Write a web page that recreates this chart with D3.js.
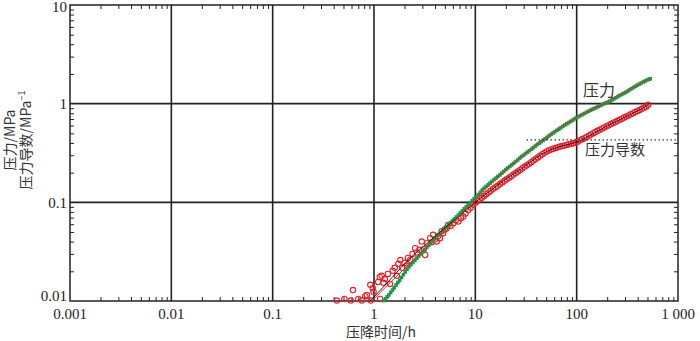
<!DOCTYPE html>
<html>
<head>
<meta charset="utf-8">
<script src="https://cdn.jsdelivr.net/npm/d3@7"></script>
<style>
  body { margin: 0; background: #fff; }
  svg { display: block; }
  .num { font-family: "Liberation Serif", "DejaVu Serif", serif; font-size: 15px; fill: #222; }
  .cjk { font-family: "Noto Sans CJK SC", sans-serif; font-size: 15px; fill: #333; }
</style>
</head>
<body>
<div id="chart"></div>
<script>
// pressure (green squares): time in h, value in MPa
var pTime = [1.25,1.30,1.35,1.40,1.46,1.52,1.58,1.65,1.72,1.79,1.87,1.95,2.03,2.12,2.21,2.31,2.42,2.53,2.65,2.77,
  2.90,3.03,3.17,3.32,3.47,3.63,3.80,3.97,4.15,4.34,4.54,4.75,4.97,5.20,5.44,5.69,5.95,6.22,6.51,6.81,
  7.12,7.45,7.79,8.15,8.52,8.91,9.32,9.75,10.2,10.7,11.2,11.7,12.2,12.8,13.4,14.0,14.6,15.3,16.0,16.7,
  17.5,18.3,19.1,20.0,20.9,21.9,22.9,23.9,25.0,26.2,27.4,28.6,29.9,31.3,32.7,34.2,35.8,37.4,39.1,40.9,
  42.8,44.7,46.8,48.9,51.1,53.5,55.9,58.5,61.1,63.9,66.8,69.9,73.1,76.4,79.9,83.5,87.3,91.3,95.5,99.8,
  104,109,114,119,125,131,137,143,149,156,163,171,179,187,195,204,213,223,233,244,
  255,266,278,291,304,318,333,348,364,380,397,415,434,454,475,497,519,532];
var pValue = [0.0101,0.0105,0.0110,0.0115,0.0122,0.0129,0.0136,0.0145,0.0154,0.0162,0.0173,0.0185,0.0197,0.0210,0.0222,0.0233,0.0245,0.0258,0.0272,0.0286,
  0.0300,0.0316,0.0333,0.0350,0.0367,0.0386,0.0405,0.0426,0.0447,0.0468,0.0490,0.0514,0.0538,0.0564,0.0592,0.0622,0.0650,0.0678,0.0710,0.0744,
  0.0782,0.0820,0.0860,0.0903,0.0948,0.0993,0.104,0.109,0.114,0.120,0.126,0.133,0.139,0.145,0.151,0.157,0.163,0.170,0.176,0.183,
  0.190,0.198,0.206,0.215,0.223,0.231,0.240,0.249,0.259,0.269,0.281,0.291,0.301,0.312,0.323,0.334,0.346,0.358,0.372,0.386,
  0.398,0.412,0.426,0.441,0.456,0.473,0.489,0.505,0.521,0.537,0.553,0.571,0.589,0.607,0.625,0.643,0.662,0.681,0.702,0.722,
  0.740,0.757,0.776,0.795,0.817,0.838,0.858,0.877,0.894,0.913,0.934,0.956,0.979,1.00,1.02,1.04,1.06,1.09,1.12,1.15,
  1.18,1.21,1.24,1.27,1.30,1.34,1.38,1.42,1.46,1.50,1.54,1.58,1.62,1.66,1.70,1.74,1.77,1.79];

// pressure derivative (red circles)
var dTime = [0.43,0.51,0.59,0.62,0.70,0.76,0.82,0.85,0.92,0.93,0.97,0.99,1.10,1.14,1.15,1.19,1.24,1.28,1.37,1.44,
  1.53,1.60,1.68,1.74,1.82,1.90,2.00,2.10,2.16,2.28,2.40,2.55,2.65,2.80,2.96,3.10,3.20,3.35,3.58,3.70,
  3.83,4.00,4.16,4.30,4.48,4.65,4.80,5.00,5.20,5.40,5.70,6.07,6.40,6.80,7.20,7.60,8.00,8.50,9.00,9.50,
  10.0,10.5,11.0,11.6,12.2,12.8,13.5,14.2,15.0,15.8,16.6,17.5,18.4,19.4,20.4,21.5,22.6,23.8,25.0,26.3,
  27.7,29.1,30.6,32.2,33.9,35.6,37.5,39.4,41.4,43.6,45.8,48.2,50.7,53.3,56.0,58.9,62.0,65.2,68.5,72.1,
  75.8,79.7,83.8,88.1,92.7,97.5,102,108,113,119,125,132,138,146,153,161,169,178,187,197,
  207,218,229,241,253,266,280,294,309,325,342,360,378,398,418,440,462,486,508];
var dValue = [0.0101,0.0105,0.0101,0.0129,0.0105,0.0101,0.0112,0.0115,0.0146,0.0101,0.0135,0.0124,0.0156,0.0175,0.0105,0.0180,0.0153,0.0167,0.0188,0.0149,
  0.0202,0.0217,0.0180,0.0238,0.0260,0.0217,0.0243,0.0228,0.0273,0.0262,0.0300,0.0343,0.0310,0.0330,0.0400,0.0335,0.0293,0.0385,0.0433,0.0395,
  0.0468,0.0420,0.0400,0.0455,0.0433,0.0510,0.0487,0.0530,0.0545,0.0590,0.0575,0.0615,0.0660,0.0640,0.0690,0.0718,0.0770,0.0835,0.0880,0.0945,
  0.099,0.103,0.107,0.111,0.116,0.121,0.126,0.131,0.137,0.142,0.147,0.153,0.159,0.165,0.171,0.178,0.184,0.191,0.198,0.205,
  0.213,0.221,0.229,0.237,0.246,0.255,0.265,0.275,0.285,0.296,0.307,0.318,0.328,0.337,0.344,0.350,0.356,0.362,0.367,0.372,
  0.377,0.382,0.387,0.393,0.398,0.404,0.412,0.425,0.435,0.447,0.460,0.474,0.486,0.502,0.516,0.530,0.544,0.560,0.575,0.590,
  0.605,0.621,0.637,0.653,0.670,0.687,0.705,0.723,0.741,0.760,0.780,0.800,0.821,0.842,0.864,0.887,0.910,0.935,0.975];

// model curves
var pFitTime = [0.95,1.5,2.3,3.5,5,7,10,14,20,28,40,55,75,100,140,190,260,370,532];
var pFitValue = [0.0100,0.0160,0.0245,0.037,0.052,0.073,0.108,0.152,0.212,0.284,0.385,0.488,0.607,0.728,0.872,1.01,1.22,1.49,1.80];
var dFitTime = [0.92,1.5,2.3,3.5,5,7,10,15,20,27.7,40,50,60,75,100,150,200,300,400,508];
var dFitValue = [0.0100,0.0172,0.0275,0.040,0.055,0.073,0.100,0.138,0.172,0.214,0.283,0.325,0.352,0.377,0.408,0.505,0.595,0.730,0.845,0.970];

// dotted reference level
var levelTime = [32, 1000];
var levelValue = 0.43;

var xTicks = [0.001, 0.01, 0.1, 1, 10, 100, 1000];
var xTickLabels = ['0.001', '0.01', '0.1', '1', '10', '100', '1 000'];
var yTicks = [0.01, 0.1, 1, 10];
var yTickLabels = ['0.01', '0.1', '1', '10'];

var width = 700, height = 341;
var plotL = 70, plotR = 678, plotT = 5, plotB = 301;

var x = d3.scaleLog().domain([0.001, 1000]).range([plotL, plotR]);
var y = d3.scaleLog().domain([0.01, 10]).range([plotB, plotT]);

var svg = d3.select('#chart').append('svg')
    .attr('width', width)
    .attr('height', height);

// minor tick values 2..9 per decade
var minorX = [];
xTicks.slice(0, -1).forEach(function(t) { for (var k = 2; k < 10; k++) minorX.push(t * k); });
var minorY = [];
yTicks.slice(0, -1).forEach(function(t) { for (var k = 2; k < 10; k++) minorY.push(t * k); });

// grid at decades
svg.append('g').selectAll('line')
    .data(xTicks.slice(1, -1))
    .enter().append('line')
    .attr('x1', d => x(d)).attr('x2', d => x(d))
    .attr('y1', plotT).attr('y2', plotB)
    .attr('stroke', '#222').attr('stroke-width', 1.6);
svg.append('g').selectAll('line')
    .data(yTicks.slice(1, -1))
    .enter().append('line')
    .attr('x1', plotL).attr('x2', plotR)
    .attr('y1', d => y(d)).attr('y2', d => y(d))
    .attr('stroke', '#222').attr('stroke-width', 1.6);

// inward minor ticks on all four sides
function ticks(axis, pos) {
    var g = svg.append('g').attr('transform', pos).call(axis);
    g.select('.domain').remove();
    g.selectAll('text').remove();
    g.selectAll('line').attr('stroke', '#222').attr('stroke-width', 1);
}
ticks(d3.axisBottom(x).tickValues(minorX).tickSize(-4), 'translate(0,' + plotB + ')');
ticks(d3.axisTop(x).tickValues(minorX).tickSize(-4), 'translate(0,' + plotT + ')');
ticks(d3.axisLeft(y).tickValues(minorY).tickSize(-4), 'translate(' + plotL + ',0)');
ticks(d3.axisRight(y).tickValues(minorY).tickSize(-4), 'translate(' + plotR + ',0)');

// frame
svg.append('rect')
    .attr('x', plotL).attr('y', plotT)
    .attr('width', plotR - plotL).attr('height', plotB - plotT)
    .attr('fill', 'none').attr('stroke', '#222').attr('stroke-width', 1.5);

// tick labels
svg.append('g').selectAll('text')
    .data(xTicks)
    .enter().append('text')
    .attr('class', 'num')
    .attr('x', d => x(d)).attr('y', plotB + 18)
    .attr('text-anchor', 'middle')
    .text((d, i) => xTickLabels[i]);
svg.append('g').selectAll('text')
    .data(yTicks)
    .enter().append('text')
    .attr('class', 'num')
    .attr('x', plotL - 3).attr('y', d => Math.min(Math.max(y(d), 7), 296))
    .attr('dy', '0.35em')
    .attr('text-anchor', 'end')
    .text((d, i) => yTickLabels[i]);

// data points
var green = '#1a9a48', red = '#e8202b';
var pData = pTime.map((t, i) => [t, pValue[i]]);
var dData = dTime.map((t, i) => [t, dValue[i]]);

svg.append('g').selectAll('circle')
    .data(dData)
    .enter().append('circle')
    .attr('cx', d => x(d[0])).attr('cy', d => y(d[1]))
    .attr('r', 2.7)
    .attr('fill', 'none').attr('stroke', red).attr('stroke-width', 1.1);

svg.append('g').selectAll('rect')
    .data(pData)
    .enter().append('rect')
    .attr('x', d => x(d[0]) - 1.8).attr('y', d => y(d[1]) - 1.8)
    .attr('width', 3.6).attr('height', 3.6)
    .attr('fill', green);

// fitted curves
var line = d3.line().x(d => x(d[0])).y(d => y(d[1])).curve(d3.curveMonotoneX);
svg.append('path')
    .datum(dFitTime.map((t, i) => [t, dFitValue[i]]))
    .attr('d', line)
    .attr('fill', 'none').attr('stroke', '#111').attr('stroke-width', 0.9);
svg.append('path')
    .datum(pFitTime.map((t, i) => [t, pFitValue[i]]))
    .attr('d', line)
    .attr('fill', 'none').attr('stroke', '#e03028').attr('stroke-width', 1);

// dotted level line
svg.append('line')
    .attr('x1', x(levelTime[0])).attr('x2', x(levelTime[1]))
    .attr('y1', y(levelValue)).attr('y2', y(levelValue))
    .attr('stroke', '#333').attr('stroke-width', 1.2)
    .attr('stroke-dasharray', '1.5,2.5');

// series labels
svg.append('text').attr('class', 'cjk')
    .attr('x', 599).attr('y', 90).attr('dy', '0.35em')
    .attr('text-anchor', 'middle').style('font-size', '16px')
    .text('压力');
svg.append('text').attr('class', 'cjk')
    .attr('x', 615).attr('y', 150).attr('dy', '0.35em')
    .attr('text-anchor', 'middle')
    .text('压力导数');

// axis titles
svg.append('text').attr('class', 'cjk')
    .attr('x', 381).attr('y', 332).attr('dy', '0.35em')
    .attr('text-anchor', 'middle').style('font-size', '14px')
    .text('压降时间/h');

var yTitle = svg.append('text').attr('class', 'cjk')
    .attr('transform', 'translate(0,140) rotate(-90)')
    .attr('text-anchor', 'middle').style('font-size', '14px');
yTitle.append('tspan').attr('x', 0).attr('y', 15).text('压力/MPa');
yTitle.append('tspan').attr('x', 0).attr('y', 31).text('压力导数/MPa');
yTitle.append('tspan').attr('dy', -6).style('font-size', '9px').text('−1');
</script>
</body>
</html>
